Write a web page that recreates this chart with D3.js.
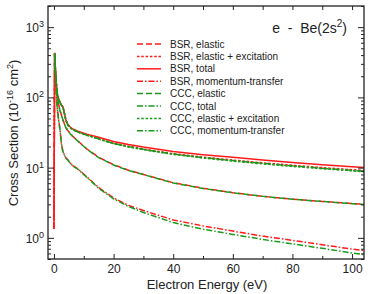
<!DOCTYPE html>
<html>
<head>
<meta charset="utf-8">
<script src="https://cdn.jsdelivr.net/npm/d3@7"></script>
<style>
  body { margin: 0; background: #fff; }
  svg { display: block; font-family: "Liberation Sans", Arial, sans-serif; }
</style>
</head>
<body>
<svg id="chart" width="374" height="294"></svg>
<script>
// energies (eV) shared by all curves; BSR curves also start at threshold
var energies = [0.22, 0.5, 0.8, 1.1, 1.5, 2, 2.5, 3, 3.5, 4, 4.7, 5.5, 6.3, 8, 11, 15, 20, 25, 30, 40, 50, 60, 70, 80, 90, 100, 104];
var bsrStart = [0.01, 1.35];

var bsrElastic  = [430, 230, 140, 105, 82, 66, 56, 48, 42, 37.5, 33.5, 30.5, 28, 24, 18.5, 14, 11, 9.2, 8.0, 6.1, 5.1, 4.4, 3.9, 3.55, 3.3, 3.08, 3.0];
var bsrElExc    = [430, 250, 160, 115, 97, 86, 78, 74, 60, 48, 40.5, 37, 35, 32.3, 29.2, 26, 22.4, 20.2, 18.4, 15.8, 14.1, 12.8, 11.7, 10.8, 10.0, 9.35, 9.1];
var bsrTotal    = [430, 250, 160, 115, 97, 86, 78, 74, 60, 48, 41, 37.5, 35.6, 33, 30, 27, 23.5, 21.3, 19.6, 17, 15.3, 14, 12.8, 11.8, 11.0, 10.3, 10.0];
var bsrMomentum = [400, 210, 115, 72, 50, 36, 22, 17, 15.2, 13.8, 12.8, 11.6, 10.7, 9.6, 7.4, 5.2, 3.7, 2.9, 2.45, 1.8, 1.48, 1.25, 1.06, 0.92, 0.8, 0.69, 0.66];
var cccElastic  = [420, 228, 139, 104, 81, 65, 55.5, 47.5, 41.5, 37.2, 33.2, 30.2, 27.8, 23.8, 18.4, 13.9, 10.9, 9.1, 7.95, 6.05, 5.05, 4.38, 3.9, 3.55, 3.3, 3.07, 2.99];
var cccTotal    = [420, 245, 158, 113, 96, 85, 77, 72, 59, 47, 40, 36.7, 34.8, 32.2, 29, 25.7, 22.1, 19.9, 18.2, 15.6, 13.9, 12.6, 11.5, 10.6, 9.8, 9.15, 8.9];
var cccElExc    = [420, 245, 158, 113, 96, 85, 77, 72, 59, 47, 40, 36.6, 34.6, 32.0, 28.8, 25.5, 21.9, 19.7, 18.0, 15.4, 13.7, 12.4, 11.3, 10.4, 9.65, 9.0, 8.75];
var cccMomentum = [390, 205, 113, 71, 49, 35.5, 21.8, 16.8, 15, 13.7, 12.7, 11.5, 10.6, 9.5, 7.3, 5.1, 3.6, 2.8, 2.3, 1.65, 1.33, 1.12, 0.95, 0.82, 0.71, 0.61, 0.58];

var seriesNames = ['BSR, elastic', 'BSR, elastic + excitation', 'BSR, total', 'BSR, momentum-transfer',
                   'CCC, elastic', 'CCC, total', 'CCC, elastic + excitation', 'CCC, momentum-transfer'];
var seriesValues = [bsrElastic, bsrElExc, bsrTotal, bsrMomentum, cccElastic, cccTotal, cccElExc, cccMomentum];

var xTicks = [0, 20, 40, 60, 80, 100];
var yTicks = [1, 10, 100, 1000];

var RED = '#ff1a1a', GREEN = '#1a9a1a';
var styles = [
  {color: RED,   dash: '6,3'},
  {color: RED,   dash: '2.5,1.8'},
  {color: RED,   dash: null},
  {color: RED,   dash: '6,2,1.5,2'},
  {color: GREEN, dash: '6,3'},
  {color: GREEN, dash: '6,2,1.5,2'},
  {color: GREEN, dash: '2.5,1.8'},
  {color: GREEN, dash: '6,2,1.5,2'}
];

(function () {
  var svg = d3.select('#chart'),
      m = {left: 48, right: 364, top: 6, bottom: 259};

  var x = d3.scaleLinear().domain([-2, 104]).range([m.left, m.right]);
  var y = d3.scaleLog().domain([0.5, 2000]).range([m.bottom, m.top]);

  svg.append('defs').append('clipPath').attr('id', 'plot-clip')
     .append('rect').attr('x', m.left).attr('y', m.top)
     .attr('width', m.right - m.left).attr('height', m.bottom - m.top);

  // curves
  var line = d3.line()
    .x(function (d) { return x(d[0]); })
    .y(function (d) { return y(d[1]); });

  var curves = svg.append('g').attr('clip-path', 'url(#plot-clip)');
  seriesValues.forEach(function (vals, i) {
    var pts = vals.map(function (v, j) { return [energies[j], v]; });
    if (i < 4) pts.unshift(bsrStart);
    curves.append('path')
      .datum(pts)
      .attr('d', line)
      .attr('fill', 'none')
      .attr('stroke', styles[i].color)
      .attr('stroke-width', 1.5)
      .attr('stroke-dasharray', styles[i].dash);
  });

  // axes: ticks pointing inward on all four sides
  var minorY = y.ticks().filter(function (d) { return yTicks.indexOf(d) < 0; });
  var minorX = d3.range(10, 104, 20);

  function axisGroup(axis, tx, ty) {
    var g = svg.append('g').attr('transform', 'translate(' + tx + ',' + ty + ')').call(axis);
    g.select('.domain').remove();
    g.selectAll('line').attr('stroke', '#222').attr('stroke-width', 1);
    return g;
  }

  var bottomAxis = axisGroup(d3.axisBottom(x).tickValues(xTicks).tickSize(-5).tickPadding(5), 0, m.bottom);
  bottomAxis.selectAll('text').attr('font-size', 12).attr('fill', '#222')
    .attr('font-family', '"Liberation Sans", Arial, sans-serif');
  axisGroup(d3.axisBottom(x).tickValues(minorX).tickSize(-3).tickFormat(''), 0, m.bottom);
  axisGroup(d3.axisTop(x).tickValues(xTicks.concat(minorX)).tickSize(-4).tickFormat(''), 0, m.top);

  axisGroup(d3.axisLeft(y).tickValues(yTicks).tickSize(-6).tickFormat(''), m.left, 0);
  axisGroup(d3.axisLeft(y).tickValues(minorY).tickSize(-3).tickFormat(''), m.left, 0);
  axisGroup(d3.axisRight(y).tickValues(yTicks).tickSize(-6).tickFormat(''), m.right, 0);
  axisGroup(d3.axisRight(y).tickValues(minorY).tickSize(-3).tickFormat(''), m.right, 0);

  var yLabels = svg.append('g').attr('fill', '#222').attr('text-anchor', 'end');
  yTicks.forEach(function (t) {
    var txt = yLabels.append('text').attr('x', 44).attr('y', y(t) + 5).attr('font-size', 12);
    txt.append('tspan').text('10');
    txt.append('tspan').attr('dy', -5).attr('font-size', 9).text(Math.round(Math.log10(t)));
  });

  svg.append('rect')
    .attr('x', m.left).attr('y', m.top)
    .attr('width', m.right - m.left).attr('height', m.bottom - m.top)
    .attr('fill', 'none').attr('stroke', '#222').attr('stroke-width', 1.3);

  // axis titles
  svg.append('text')
    .attr('x', 207).attr('y', 289)
    .attr('text-anchor', 'middle').attr('font-size', 13).attr('fill', '#222')
    .text('Electron Energy (eV)');

  var yTitle = svg.append('text')
    .attr('transform', 'translate(17.5,133) rotate(-90)')
    .attr('text-anchor', 'middle').attr('font-size', 13).attr('fill', '#222');
  yTitle.append('tspan').text('Cross Section (10');
  yTitle.append('tspan').attr('dy', -5).attr('font-size', 9).text('-16');
  yTitle.append('tspan').attr('dy', 5).text(' cm');
  yTitle.append('tspan').attr('dy', -5).attr('font-size', 9).text('2');
  yTitle.append('tspan').attr('dy', 5).text(')');

  // title
  var title = svg.append('text')
    .attr('x', 347).attr('y', 33)
    .attr('text-anchor', 'end').attr('font-size', 14).attr('fill', '#222');
  title.append('tspan').text('e\u00a0\u00a0-\u00a0\u00a0Be(2s');
  title.append('tspan').attr('dy', -6).attr('font-size', 10).text('2');
  title.append('tspan').attr('dy', 6).text(')');

  // legend
  var legend = svg.append('g').attr('transform', 'translate(137,44)');
  seriesNames.forEach(function (name, i) {
    var row = legend.append('g').attr('transform', 'translate(0,' + (i * 12.4) + ')');
    row.append('line')
      .attr('x1', 0).attr('x2', 24).attr('y1', 0).attr('y2', 0)
      .attr('stroke', styles[i].color).attr('stroke-width', 1.5)
      .attr('stroke-dasharray', styles[i].dash);
    row.append('text')
      .attr('x', 33).attr('y', 3.6)
      .attr('font-size', 10).attr('fill', '#222')
      .text(name);
  });
})();
</script>
</body>
</html>
